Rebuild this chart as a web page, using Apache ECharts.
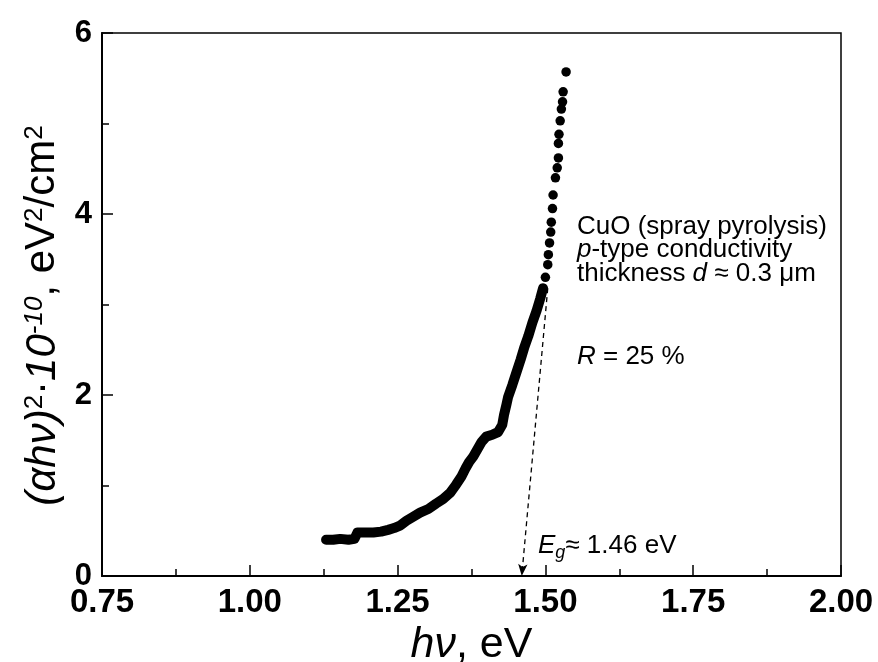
<!DOCTYPE html>
<html>
<head>
<meta charset="utf-8">
<script src="https://cdn.jsdelivr.net/npm/echarts@6/dist/echarts.min.js"></script>
<style>
  html, body { margin: 0; padding: 0; background: #fff; }
  #chart { width: 878px; height: 662px; }
</style>
</head>
<body>
<div id="chart"></div>
<script>
// photon energy hv (eV) and (alpha*h*nu)^2 * 1e-10 (eV^2/cm^2)
// low part: points so dense they merge into a thick band
const hvDense = [1.129, 1.141, 1.153, 1.167, 1.177, 1.182, 1.195, 1.209, 1.222, 1.234, 1.244, 1.255, 1.265, 1.275,
  1.288, 1.302, 1.315, 1.327, 1.339, 1.349, 1.358, 1.365, 1.371, 1.378, 1.385, 1.392, 1.400, 1.410,
  1.420, 1.427, 1.430, 1.434, 1.437, 1.444, 1.451, 1.458, 1.464, 1.471, 1.478, 1.485, 1.491, 1.496]
const absDense = [0.40, 0.40, 0.41, 0.40, 0.41, 0.48, 0.48, 0.48, 0.49, 0.51, 0.53, 0.56, 0.61, 0.65,
  0.70, 0.74, 0.80, 0.85, 0.92, 1.01, 1.10, 1.19, 1.26, 1.32, 1.40, 1.48, 1.54, 1.56,
  1.59, 1.67, 1.78, 1.89, 1.98, 2.11, 2.25, 2.39, 2.52, 2.65, 2.80, 2.93, 3.06, 3.18]
// upper part: separate dots
const hvSparse = [1.500, 1.504, 1.505, 1.507, 1.509, 1.510, 1.512, 1.513, 1.517, 1.520, 1.522, 1.522,
  1.523, 1.525, 1.527, 1.529, 1.530, 1.535]
const absSparse = [3.30, 3.44, 3.55, 3.68, 3.80, 3.91, 4.06, 4.21, 4.40, 4.51, 4.62, 4.78,
  4.88, 5.03, 5.16, 5.24, 5.35, 5.57]

// extrapolation to the band gap
const fitStart = [1.504, 3.18]
const fitEnd = [1.46, 0]

const xTicks = { min: 0.75, max: 2.0, step: 0.25 }
const yTicks = { min: 0, max: 6, step: 2 }

const FONT = 'Liberation Sans, Arial, Helvetica, sans-serif'

const chart = echarts.init(document.getElementById('chart'))

const pair = (xs, ys) => xs.map((x, i) => [x, ys[i]])

const option = {
  backgroundColor: '#fff',
  animation: false,
  grid: {
    left: 102, right: 37, top: 33, bottom: 86,
    containLabel: false,
    outerBoundsMode: 'none',
    show: true, borderColor: '#000', borderWidth: 1.5
  },
  xAxis: {
    type: 'value',
    min: xTicks.min, max: xTicks.max, interval: xTicks.step,
    name: '{i|hν}, eV',
    nameLocation: 'middle',
    nameGap: 43,
    nameTextStyle: {
      color: '#000', fontFamily: FONT, fontSize: 43,
      rich: { i: { fontStyle: 'italic', fontSize: 43, fontFamily: FONT, color: '#000' } }
    },
    axisLine: { lineStyle: { color: '#000', width: 2 } },
    axisTick: { inside: true, length: 11, lineStyle: { color: '#000', width: 1.5 } },
    minorTick: { show: true, splitNumber: 2, length: 7, lineStyle: { color: '#000', width: 1.5 } },
    splitLine: { show: false },
    axisLabel: {
      color: '#000', fontFamily: FONT, fontWeight: 'bold', fontSize: 33, margin: 10,
      formatter: v => v.toFixed(2)
    }
  },
  yAxis: {
    type: 'value',
    min: yTicks.min, max: yTicks.max, interval: yTicks.step,
    name: '{i|(αhν)}{s|2}{n|·}{i|10}{si|-10}{n|, eV}{s|2}{n|/cm}{s|2}',
    nameLocation: 'middle',
    nameRotate: 90,
    nameGap: 36,
    nameTextStyle: {
      color: '#000', fontFamily: FONT, fontSize: 42,
      padding: [0, 22, 0, 0],
      rich: {
        i: { fontStyle: 'italic', fontSize: 42, fontFamily: FONT, color: '#000' },
        n: { fontSize: 42, fontFamily: FONT, color: '#000' },
        s: { fontSize: 26, fontFamily: FONT, color: '#000', verticalAlign: 'top' },
        si: { fontSize: 26, fontStyle: 'italic', fontFamily: FONT, color: '#000', verticalAlign: 'top' }
      }
    },
    axisLine: { lineStyle: { color: '#000', width: 2 } },
    axisTick: { inside: true, length: 11, lineStyle: { color: '#000', width: 1.5 } },
    minorTick: { show: true, splitNumber: 2, length: 7, lineStyle: { color: '#000', width: 1.5 } },
    splitLine: { show: false },
    axisLabel: {
      color: '#000', fontFamily: FONT, fontWeight: 'bold', fontSize: 31, margin: 10
    }
  },
  series: [
    {
      name: 'dense',
      type: 'line',
      data: pair(hvDense, absDense),
      showSymbol: false,
      symbol: 'none',
      lineStyle: { color: '#000', width: 10, cap: 'round', join: 'round' },
      z: 3,
      markLine: {
        silent: true,
        symbol: ['none', 'arrow'],
        symbolSize: [7, 12],
        label: { show: false },
        lineStyle: { color: '#000', width: 1.3, type: [5, 4] },
        data: [[{ coord: fitStart }, { coord: fitEnd }]]
      }
    },
    {
      name: 'sparse',
      type: 'scatter',
      data: pair(hvSparse, absSparse),
      symbol: 'circle',
      symbolSize: 9.5,
      itemStyle: { color: '#000', opacity: 1 },
      z: 3
    }
  ],
  graphic: [
    {
      type: 'text', x: 577, y: 227,
      style: { text: 'CuO (spray pyrolysis)', fontFamily: FONT, fontSize: 26, fill: '#000', verticalAlign: 'middle' }
    },
    {
      type: 'text', x: 577, y: 250,
      style: {
        text: '{i|p}-type conductivity', fontFamily: FONT, fontSize: 26, fill: '#000', verticalAlign: 'middle',
        rich: { i: { fontStyle: 'italic', fontFamily: FONT, fontSize: 26, fill: '#000' } }
      }
    },
    {
      type: 'text', x: 577, y: 274,
      style: {
        text: 'thickness {i|d} ≈ 0.3 μm', fontFamily: FONT, fontSize: 26, fill: '#000', verticalAlign: 'middle',
        rich: { i: { fontStyle: 'italic', fontFamily: FONT, fontSize: 26, fill: '#000' } }
      }
    },
    {
      type: 'text', x: 577, y: 357,
      style: {
        text: '{i|R} = 25 %', fontFamily: FONT, fontSize: 26, fill: '#000', verticalAlign: 'middle',
        rich: { i: { fontStyle: 'italic', fontFamily: FONT, fontSize: 26, fill: '#000' } }
      }
    },
    {
      type: 'text', x: 538, y: 546,
      style: {
        text: '{i|E}{sub|g}≈ 1.46 eV', fontFamily: FONT, fontSize: 26, fill: '#000', verticalAlign: 'middle',
        rich: {
          i: { fontStyle: 'italic', fontFamily: FONT, fontSize: 26, fill: '#000' },
          sub: { fontStyle: 'italic', fontFamily: FONT, fontSize: 18, fill: '#000', verticalAlign: 'bottom', padding: [14, 0, 0, 0] }
        }
      }
    }
  ]
}

chart.setOption(option)
</script>
</body>
</html>
